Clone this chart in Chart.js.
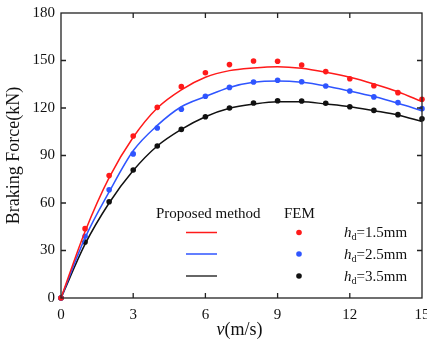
<!DOCTYPE html>
<html><head><meta charset="utf-8">
<script src="https://cdn.jsdelivr.net/npm/chart.js@4/dist/chart.umd.min.js"></script>
<style>html,body{margin:0;padding:0;background:#fff}#wrap{width:427px;height:344px}</style>
</head><body><div id="wrap"><canvas id="c" width="427" height="344"></canvas></div>
<script>
const speeds = [0,1,2,3,4,5,6,7,8,9,10,11,12,13,14,15];
const xTicks = [0,3,6,9,12,15];
const yTicks = [0,30,60,90,120,150,180];
const seriesLabels = ['1.5mm','2.5mm','3.5mm'];
const colors = ['#ff1a1a','#2f55ff','#111111'];
// Proposed method (curves)
const model15 = [0,42,76,101.5,120,131.5,139.4,143.6,145.3,146.1,145.1,142.6,139.4,135.2,130.3,124];
const model25 = [0,38,67,93,109,120.8,127.2,133,136.2,137,136.2,133.9,130.7,127.2,123,118.3];
const model35 = [0,34,60,80.5,96,106.5,114.5,119.8,122.5,124,124,122.5,120.8,118.3,115.6,111.4];
// FEM (dots)
const fem15 = [0,43.8,77.3,102.3,120.4,133.5,142.3,147.4,149.7,149.5,147.2,143,138.5,134.1,129.7,125.5];
const fem25 = [0,39,68.4,91,107.4,119.2,127.4,133,136.4,137.5,136.6,133.9,130.7,127,123.4,119.6];
const fem35 = [0,35.4,60.8,80.8,96,106.5,114.5,120,123.2,124.6,124.4,123,120.8,118.5,115.8,113.2];

const SERIF = '"Liberation Serif", "Times New Roman", serif';
Chart.defaults.font.family = SERIF;
const pts = arr => arr.map((v,i)=>({x:speeds[i],y:v}));
const models = [model15,model25,model35];
const fems = [fem15,fem25,fem35];
const datasets = [];
models.forEach((m,i)=>datasets.push({type:'line',data:pts(m),borderColor:colors[i],borderWidth:1.5,pointRadius:0,cubicInterpolationMode:'monotone',fill:false}));
fems.forEach((f,i)=>datasets.push({type:'scatter',data:pts(f),backgroundColor:colors[i],borderColor:colors[i],pointRadius:2.8,pointBorderWidth:0,clip:false}));

const deco = {
  id:'deco',
  afterDraw(chart){
    const ctx = chart.ctx, a = chart.chartArea, xs = chart.scales.x, ys = chart.scales.y;
    ctx.save();
    ctx.strokeStyle = '#222'; ctx.lineWidth = 1.3;
    ctx.strokeRect(a.left, a.top, a.right-a.left, a.bottom-a.top);
    const tl = 5;
    ctx.beginPath();
    xTicks.slice(1,-1).forEach(v=>{const p=xs.getPixelForValue(v);
      ctx.moveTo(p,a.bottom);ctx.lineTo(p,a.bottom-tl);ctx.moveTo(p,a.top);ctx.lineTo(p,a.top+tl);});
    yTicks.slice(1,-1).forEach(v=>{const p=ys.getPixelForValue(v);
      ctx.moveTo(a.left,p);ctx.lineTo(a.left+tl,p);ctx.moveTo(a.right,p);ctx.lineTo(a.right-tl,p);});
    ctx.stroke();
    // axis titles
    ctx.fillStyle = '#111';
    ctx.textBaseline = 'middle';
    ctx.save();
    ctx.translate(14,(a.top+a.bottom)/2);
    ctx.rotate(-Math.PI/2);
    ctx.font = '18px '+SERIF; ctx.textAlign='center';
    ctx.fillText('Braking Force(kN)',0,0);
    ctx.restore();
    ctx.textAlign='left';
    ctx.font = 'italic 18px '+SERIF; const w1 = ctx.measureText('v').width;
    ctx.font = '18px '+SERIF; const w2 = ctx.measureText('(m/s)').width;
    let x0 = (a.left+a.right)/2 - 2 - (w1+w2)/2;
    ctx.font = 'italic 18px '+SERIF; ctx.fillText('v',x0,330);
    ctx.font = '18px '+SERIF; ctx.fillText('(m/s)',x0+w1,330);
    // legend
    ctx.font = '15px '+SERIF;
    ctx.fillText('Proposed method',156,214);
    ctx.fillText('FEM',284,214);
    const ly = [232.5,254,276];
    ly.forEach((y,i)=>{
      ctx.strokeStyle = i===2 ? '#333' : colors[i]; ctx.lineWidth=1.5;
      ctx.beginPath(); ctx.moveTo(186,y); ctx.lineTo(217,y); ctx.stroke();
      ctx.fillStyle = colors[i];
      ctx.beginPath(); ctx.arc(299,y,2.8,0,Math.PI*2); ctx.fill();
      ctx.fillStyle = '#111';
      let x = 344;
      ctx.font = 'italic 15px '+SERIF; ctx.fillText('h',x,y+1); x += ctx.measureText('h').width;
      ctx.font = '10px '+SERIF; ctx.fillText('d',x,y+5); x += ctx.measureText('d').width;
      ctx.font = '15px '+SERIF; ctx.fillText('='+seriesLabels[i],x,y+1);
    });
    ctx.restore();
  }
};

new Chart(document.getElementById('c'),{
  data:{datasets},
  options:{
    responsive:false, animation:false,
    layout:{padding:{top:13,right:5,left:0,bottom:0}},
    plugins:{legend:{display:false},tooltip:{enabled:false}},
    scales:{
      x:{type:'linear',min:0,max:15,
        afterBuildTicks(s){s.ticks=xTicks.map(v=>({value:v}));},
        afterFit(s){s.height=46;s.paddingLeft=0;s.paddingRight=0;},
        grid:{display:false,drawTicks:false},border:{display:false},
        ticks:{padding:8,color:'#111',font:{family:SERIF,size:15},maxRotation:0,autoSkip:false}},
      y:{type:'linear',min:0,max:180,
        afterBuildTicks(s){s.ticks=yTicks.map(v=>({value:v}));},
        afterFit(s){s.width=61;s.paddingTop=0;s.paddingBottom=0;},
        grid:{display:false,drawTicks:false},border:{display:false},
        ticks:{padding:6,color:'#111',font:{family:SERIF,size:15},autoSkip:false}}
    }
  },
  plugins:[deco]
});
</script></body></html>
